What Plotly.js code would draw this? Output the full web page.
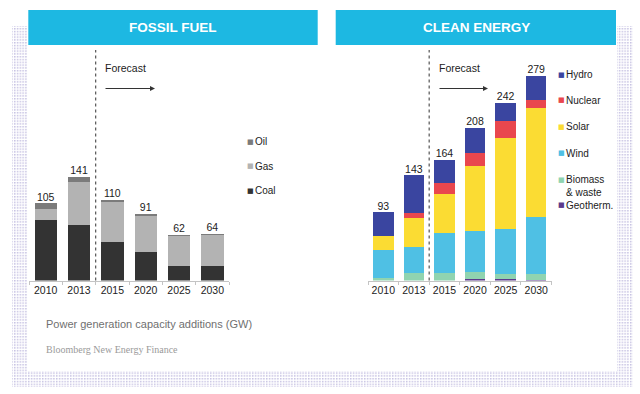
<!DOCTYPE html>
<html>
<head>
<meta charset="utf-8">
<script src="https://cdn.plot.ly/plotly-3.0.1.min.js"></script>
<style>html,body{margin:0;padding:0;background:#fff;}#chart{width:640px;height:394px;}</style>
</head>
<body>
<div id="chart"></div>
<script>
// ---- data ----
var years = ['2010', '2013', '2015', '2020', '2025', '2030'];

var fossilNames = ['Coal', 'Gas', 'Oil'];
var coal = [82, 75, 52, 39, 20, 20];
var gas = [16, 59, 55, 49, 40, 42];
var oil = [7, 7, 3, 3, 2, 2];
var fossilTotals = [105, 141, 110, 91, 62, 64];

var cleanNames = ['Geotherm.', 'Biomass<br>& waste', 'Wind', 'Solar', 'Nuclear', 'Hydro'];
var geotherm = [0, 0, 0, 2, 1.5, 1];
var biomass = [3.5, 10, 10, 10, 8, 8];
var wind = [38.5, 35.5, 55, 56, 60.5, 78];
var solar = [19, 39.5, 53, 88, 124, 148];
var nuclear = [0, 7, 15, 17, 23, 11];
var hydro = [32, 51, 31, 35, 25, 33];
var cleanTotals = [93, 143, 164, 208, 242, 279];

var forecastLabel = 'Forecast';
var panelTitles = ['FOSSIL FUEL', 'CLEAN ENERGY'];
var axisNote = 'Power generation capacity additions (GW)';
var sourceNote = 'Bloomberg New Energy Finance';

// ---- styles ----
var W = 640, H = 394;
var FONT = 'Liberation Sans, Arial, Helvetica, sans-serif';
var fossilColors = ['#333333', '#b3b3b3', '#7b7b7b'];
var cleanColors = ['#5c3b8c', '#90d4b0', '#4fc0e4', '#fbdc33', '#e9474e', '#3a45a0'];
var banner = '#1db8e2';

function px(x) { return x / W; }
function py(y) { return (H - y) / H; }

var fossilSeries = [coal, gas, oil];
var cleanSeries = [geotherm, biomass, wind, solar, nuclear, hydro];

var traces = [];
fossilSeries.forEach(function (s, i) {
  traces.push({type: 'bar', x: years, y: s, name: fossilNames[i], xaxis: 'x', yaxis: 'y',
    marker: {color: fossilColors[i], line: {width: 0}}, showlegend: false, hoverinfo: 'y+name'});
});
cleanSeries.forEach(function (s, i) {
  traces.push({type: 'bar', x: years, y: s, name: cleanNames[i], xaxis: 'x2', yaxis: 'y2',
    marker: {color: cleanColors[i], line: {width: 0}}, showlegend: false, hoverinfo: 'y+name'});
});
traces.push({type: 'scatter', mode: 'text', x: years, y: fossilTotals, text: fossilTotals.map(String),
  textposition: 'top center', textfont: {family: FONT, size: 10.5, color: '#222'}, xaxis: 'x', yaxis: 'y',
  showlegend: false, hoverinfo: 'skip', cliponaxis: false});
traces.push({type: 'scatter', mode: 'text', x: years, y: cleanTotals, text: cleanTotals.map(String),
  textposition: 'top center', textfont: {family: FONT, size: 10.5, color: '#222'}, xaxis: 'x2', yaxis: 'y2',
  showlegend: false, hoverinfo: 'skip', cliponaxis: false});

var yDom = [py(280.5), py(40)];
var yRange = [0, 327.5];

function xAxis(dom) {
  return {domain: dom, type: 'category', range: [-0.5, 5.5], showline: true, linecolor: '#c4c4c4', linewidth: 1,
    ticks: 'outside', tickson: 'boundaries', ticklen: 3, tickcolor: '#c4c4c4', showgrid: false, zeroline: false,
    tickangle: 0, automargin: false,
    tickfont: {family: FONT, size: 10.5, color: '#222'}, fixedrange: true};
}
function yAxis(anchor) {
  return {domain: yDom, range: yRange, visible: false, showgrid: false, zeroline: false, anchor: anchor, fixedrange: true};
}

// dotted frame background
var svg = '<svg xmlns="http://www.w3.org/2000/svg" width="640" height="394" viewBox="0 0 640 394">' +
  '<defs><pattern id="d" width="2.8" height="2.8" patternUnits="userSpaceOnUse">' +
  '<rect x="0" y="0" width="1.5" height="1.5" fill="#c6c1e2"/></pattern></defs>' +
  '<rect x="12" y="26" width="621" height="361" fill="url(#d)"/>' +
  '<rect x="28" y="8" width="589" height="363" fill="#ffffff"/></svg>';

var shapes = [
  {type: 'rect', xref: 'paper', yref: 'paper', x0: px(28.3), x1: px(317.7), y0: py(45), y1: py(10), fillcolor: banner, line: {width: 0}, layer: 'below'},
  {type: 'rect', xref: 'paper', yref: 'paper', x0: px(335.7), x1: px(616), y0: py(45), y1: py(10), fillcolor: banner, line: {width: 0}, layer: 'below'},
  {type: 'line', xref: 'x', yref: 'paper', x0: 1.5, x1: 1.5, y0: yDom[0], y1: py(50), line: {color: '#555', width: 1.2, dash: 'dot'}},
  {type: 'line', xref: 'x2', yref: 'paper', x0: 1.5, x1: 1.5, y0: yDom[0], y1: py(50), line: {color: '#555', width: 1.2, dash: 'dot'}}
];

var ann = [];
function txt(t, x, y, opts) {
  var a = {text: t, xref: 'paper', yref: 'paper', x: px(x), y: py(y), showarrow: false, xanchor: 'left', yanchor: 'middle',
    font: {family: FONT, size: 10, color: '#222'}};
  for (var k in opts) a[k] = opts[k];
  ann.push(a);
}
// panel titles
txt('<b>' + panelTitles[0] + '</b>', 173, 27.5, {xanchor: 'center', font: {family: FONT, size: 13.5, color: '#fff'}});
txt('<b>' + panelTitles[1] + '</b>', 476, 27.5, {xanchor: 'center', font: {family: FONT, size: 13.5, color: '#fff'}});
// forecast texts and arrows
ann.push({text: forecastLabel, xref: 'x', yref: 'paper', x: 1.5, y: py(68), xshift: 7, xanchor: 'left', yanchor: 'middle', showarrow: false, font: {family: FONT, size: 10.5, color: '#222'}});
ann.push({text: forecastLabel, xref: 'x2', yref: 'paper', x: 1.5, y: py(68), xshift: 7.5, xanchor: 'left', yanchor: 'middle', showarrow: false, font: {family: FONT, size: 10.5, color: '#222'}});
ann.push({text: '', xref: 'paper', yref: 'paper', x: px(155), y: py(88.5), ax: -51, ay: 0, showarrow: true, arrowhead: 2, arrowsize: 1, arrowwidth: 1, arrowcolor: '#333'});
ann.push({text: '', xref: 'paper', yref: 'paper', x: px(488), y: py(88.5), ax: -50, ay: 0, showarrow: true, arrowhead: 2, arrowsize: 1, arrowwidth: 1, arrowcolor: '#333'});

// legends (top to bottom = reverse of stacking)
var fossilLegY = [191, 166, 141.7];
fossilNames.forEach(function (n, i) {
  txt('<span style="color:' + fossilColors[i] + '">■</span>', 244.5, fossilLegY[i], {font: {family: 'DejaVu Sans', size: 7, color: fossilColors[i]}});
  txt(n, 252.5, fossilLegY[i]);
});
var cleanLegY = [205, 180, 153.3, 126.7, 100.3, 74.7];
var cleanTextY = [205, 185.5, 153.3, 126.7, 100.3, 74.7];
cleanNames.forEach(function (n, i) {
  txt('<span style="color:' + cleanColors[i] + '">■</span>', 556, cleanLegY[i], {font: {family: 'DejaVu Sans', size: 7, color: cleanColors[i]}});
  txt(n, 564, cleanTextY[i], {align: 'left'});
});
// footnotes
txt(axisNote, 44, 324, {font: {family: FONT, size: 11, color: '#707070'}});
txt(sourceNote, 44, 349.5, {font: {family: 'Liberation Serif, Times New Roman, serif', size: 10, color: '#9a9a9a'}});

var layout = {
  width: W, height: H, margin: {l: 0, r: 0, t: 0, b: 0},
  paper_bgcolor: '#ffffff', plot_bgcolor: 'rgba(0,0,0,0)',
  barmode: 'stack', bargap: 0.33, showlegend: false,
  xaxis: xAxis([px(29), px(229)]),
  xaxis2: xAxis([px(368), px(551.5)]),
  yaxis: yAxis('x'),
  yaxis2: yAxis('x2'),
  shapes: shapes,
  annotations: ann,
  images: [{source: 'data:image/svg+xml;charset=utf-8,' + encodeURIComponent(svg), xref: 'paper', yref: 'paper',
    x: 0, y: 1, sizex: 1, sizey: 1, xanchor: 'left', yanchor: 'top', sizing: 'stretch', layer: 'below'}]
};

Plotly.newPlot('chart', traces, layout, {displayModeBar: false, staticPlot: true});
</script>
</body>
</html>
